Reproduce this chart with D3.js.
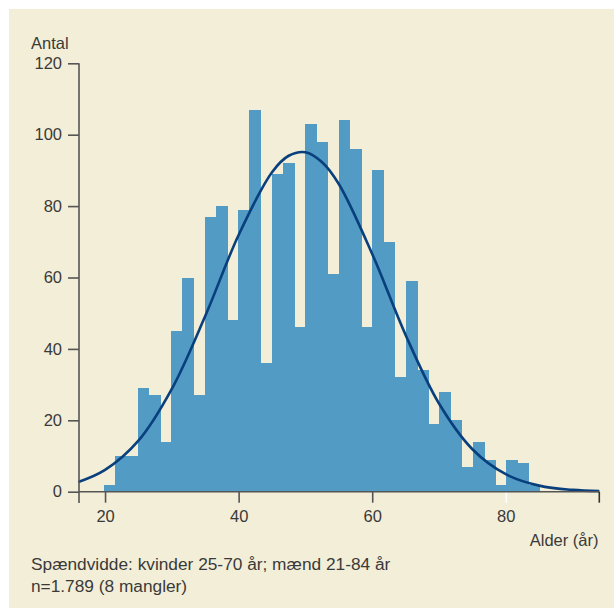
<!DOCTYPE html>
<html>
<head>
<meta charset="utf-8">
<script src="https://cdn.jsdelivr.net/npm/d3@7"></script>
<style>
  html, body { margin: 0; padding: 0; background: #ffffff; }
  svg { display: block; }
  text { font-family: "Liberation Sans", Arial, sans-serif; fill: #3a3a3a; }
</style>
</head>
<body>
<svg id="chart" width="614" height="608"></svg>
<script>
// Histogram counts per age bin (39 bins, sum = 1789)
const binCounts = [2, 10, 10, 29, 27, 14, 45, 60, 27, 77, 80, 48, 79, 107, 36, 89, 92, 46,
                   103, 98, 61, 104, 96, 46, 90, 70, 32, 59, 34, 19, 28, 20, 7, 14, 9, 2, 9, 8, 2];
const binStart = 19.85;   // age at left edge of first bin
const binWidth = 1.673;   // years per bin

// Fitted normal curve
const curveAge   = [16, 20, 25, 30, 35, 40, 45, 47.5, 50, 52.5, 55, 60, 65, 70, 75, 80, 85, 90, 94];
const curveCount = [2.7, 6.1, 14.3, 28.8, 49.2, 71.9, 89.5, 94.1, 95.1, 92.3, 86.2, 66.6, 43.9, 24.7, 11.9, 4.9, 1.7, 0.5, 0.2];

const xTicks = [20, 40, 60, 80];
const yTicks = [0, 20, 40, 60, 80, 100, 120];

const texts = {
  yTitle: "Antal",
  xTitle: "Alder (år)",
  note1: "Spændvidde: kvinder 25-70 år; mænd 21-84 år",
  note2: "n=1.789 (8 mangler)"
};

const svg = d3.select("#chart");

// background panel
svg.append("rect").attr("x", 9).attr("y", 9).attr("width", 605).attr("height", 599)
  .attr("fill", "#f3eed7");

const x = d3.scaleLinear().domain([16.1, 94]).range([79, 599.3]);
const y = d3.scaleLinear().domain([0, 120]).range([491.7, 63.3]);

// bars
svg.append("g").attr("shape-rendering", "crispEdges")
  .selectAll("rect").data(binCounts).join("rect")
  .attr("x", (d, i) => x(binStart + i * binWidth))
  .attr("width", (d, i) => x(binStart + (i + 1) * binWidth) - x(binStart + i * binWidth) + 0.6)
  .attr("y", d => y(d))
  .attr("height", d => y(0) - y(d))
  .attr("fill", "#519bc5");

// normal curve
const pts = curveAge.map((a, i) => [a, curveCount[i]]);
svg.append("path")
  .attr("d", d3.line().x(d => x(d[0])).y(d => y(d[1])).curve(d3.curveCatmullRom.alpha(0.5))(pts))
  .attr("fill", "none").attr("stroke", "#083f7c").attr("stroke-width", 2.6);

const axisColor = "#555555";

// y axis
const yAxis = svg.append("g").attr("transform", `translate(${x(16.1)},0)`)
  .call(d3.axisLeft(y).tickValues(yTicks).tickSize(11).tickPadding(6).tickSizeOuter(0));
yAxis.select(".domain").remove();
yAxis.append("line").attr("x1", 0).attr("x2", 0).attr("y1", y(120)).attr("y2", y(0) + 11.3)
  .attr("stroke", axisColor).attr("stroke-width", 1.6);
yAxis.selectAll(".tick line").attr("stroke", axisColor).attr("stroke-width", 1.6);
yAxis.selectAll(".tick text").style("font-size", "16.5px").attr("fill", "#3a3a3a")
  .style("font-family", '"Liberation Sans", Arial, sans-serif');

// x axis
const xAxis = svg.append("g").attr("transform", `translate(0,${y(0)})`)
  .call(d3.axisBottom(x).tickValues(xTicks).tickSize(11).tickPadding(8).tickSizeOuter(0));
xAxis.select(".domain").remove();
xAxis.append("line").attr("x1", x(16.1)).attr("x2", x(94)).attr("y1", 0).attr("y2", 0)
  .attr("stroke", axisColor).attr("stroke-width", 1.6);
xAxis.append("line").attr("x1", x(94)).attr("x2", x(94)).attr("y1", 0).attr("y2", 11)
  .attr("stroke", "#333").attr("stroke-width", 1.6);
xAxis.selectAll(".tick line").attr("stroke", d => d === 80 ? "#ffffff" : axisColor).attr("stroke-width", 1.6);
xAxis.selectAll(".tick text").style("font-size", "16.5px").attr("fill", "#3a3a3a")
  .style("font-family", '"Liberation Sans", Arial, sans-serif');

// titles and notes
svg.append("text").attr("x", 31).attr("y", 48.5).style("font-size", "16.5px").text(texts.yTitle);
svg.append("text").attr("x", 598.5).attr("y", 546).attr("text-anchor", "end")
  .style("font-size", "16.5px").text(texts.xTitle);
svg.append("text").attr("x", 31).attr("y", 569.5).style("font-size", "17.3px").text(texts.note1);
svg.append("text").attr("x", 31).attr("y", 591.5).style("font-size", "17.3px").text(texts.note2);
</script>
</body>
</html>
